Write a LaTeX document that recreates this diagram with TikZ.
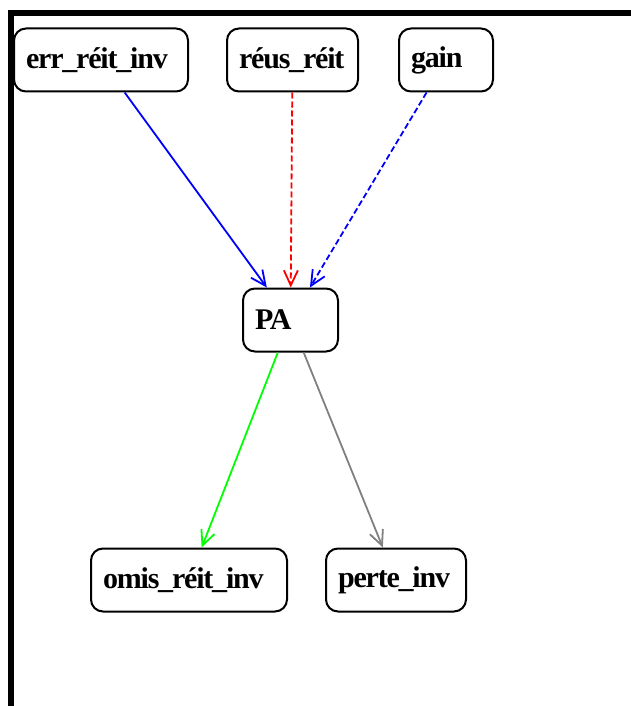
\documentclass[tikz,border=0pt]{standalone}
\usepackage{fontspec}
\setmainfont{Liberation Serif}[LetterSpace=-4]
\usetikzlibrary{arrows.meta}
\begin{document}
\begin{tikzpicture}[x=1pt,y=-1pt,
  box/.style={draw, line width=2pt, rounded corners=12pt, minimum height=63pt,
    inner xsep=12pt, inner ysep=0pt, align=left,
    font=\fontsize{30}{32}\selectfont\bfseries},
  conn/.style={line width=1.8pt, -{Straight Barb[length=15pt,width=14pt,line width=1.8pt]}},
  frame/.style={line width=6pt}]
\useasboundingbox (0,0) rectangle (631,706);
\draw[frame] (631,13) -- (11,13) -- (11,706);
\node[box, text width=150pt] (err) at (101,60) {err\_réit\_inv};
\node[box, text width=107pt] (reus) at (292.5,60) {réus\_réit};
\node[box, text width=70pt] (gain) at (446,60) {gain};
\node[box, text width=71pt] (PA) at (290.5,320) {PA};
\node[box, text width=172pt] (omis) at (189,580) {omis\_réit\_inv};
\node[box, text width=116pt] (perte) at (396,580) {perte\_inv};
\draw[conn, blue] (err) -- (PA);
\draw[conn, red, dash pattern=on 6pt off 3pt] (reus) -- (PA);
\draw[conn, blue, dash pattern=on 6pt off 3pt] (gain) -- (PA);
\draw[conn, green] (PA) -- (omis);
\draw[conn, gray] (PA) -- (perte);
\end{tikzpicture}
\end{document}
